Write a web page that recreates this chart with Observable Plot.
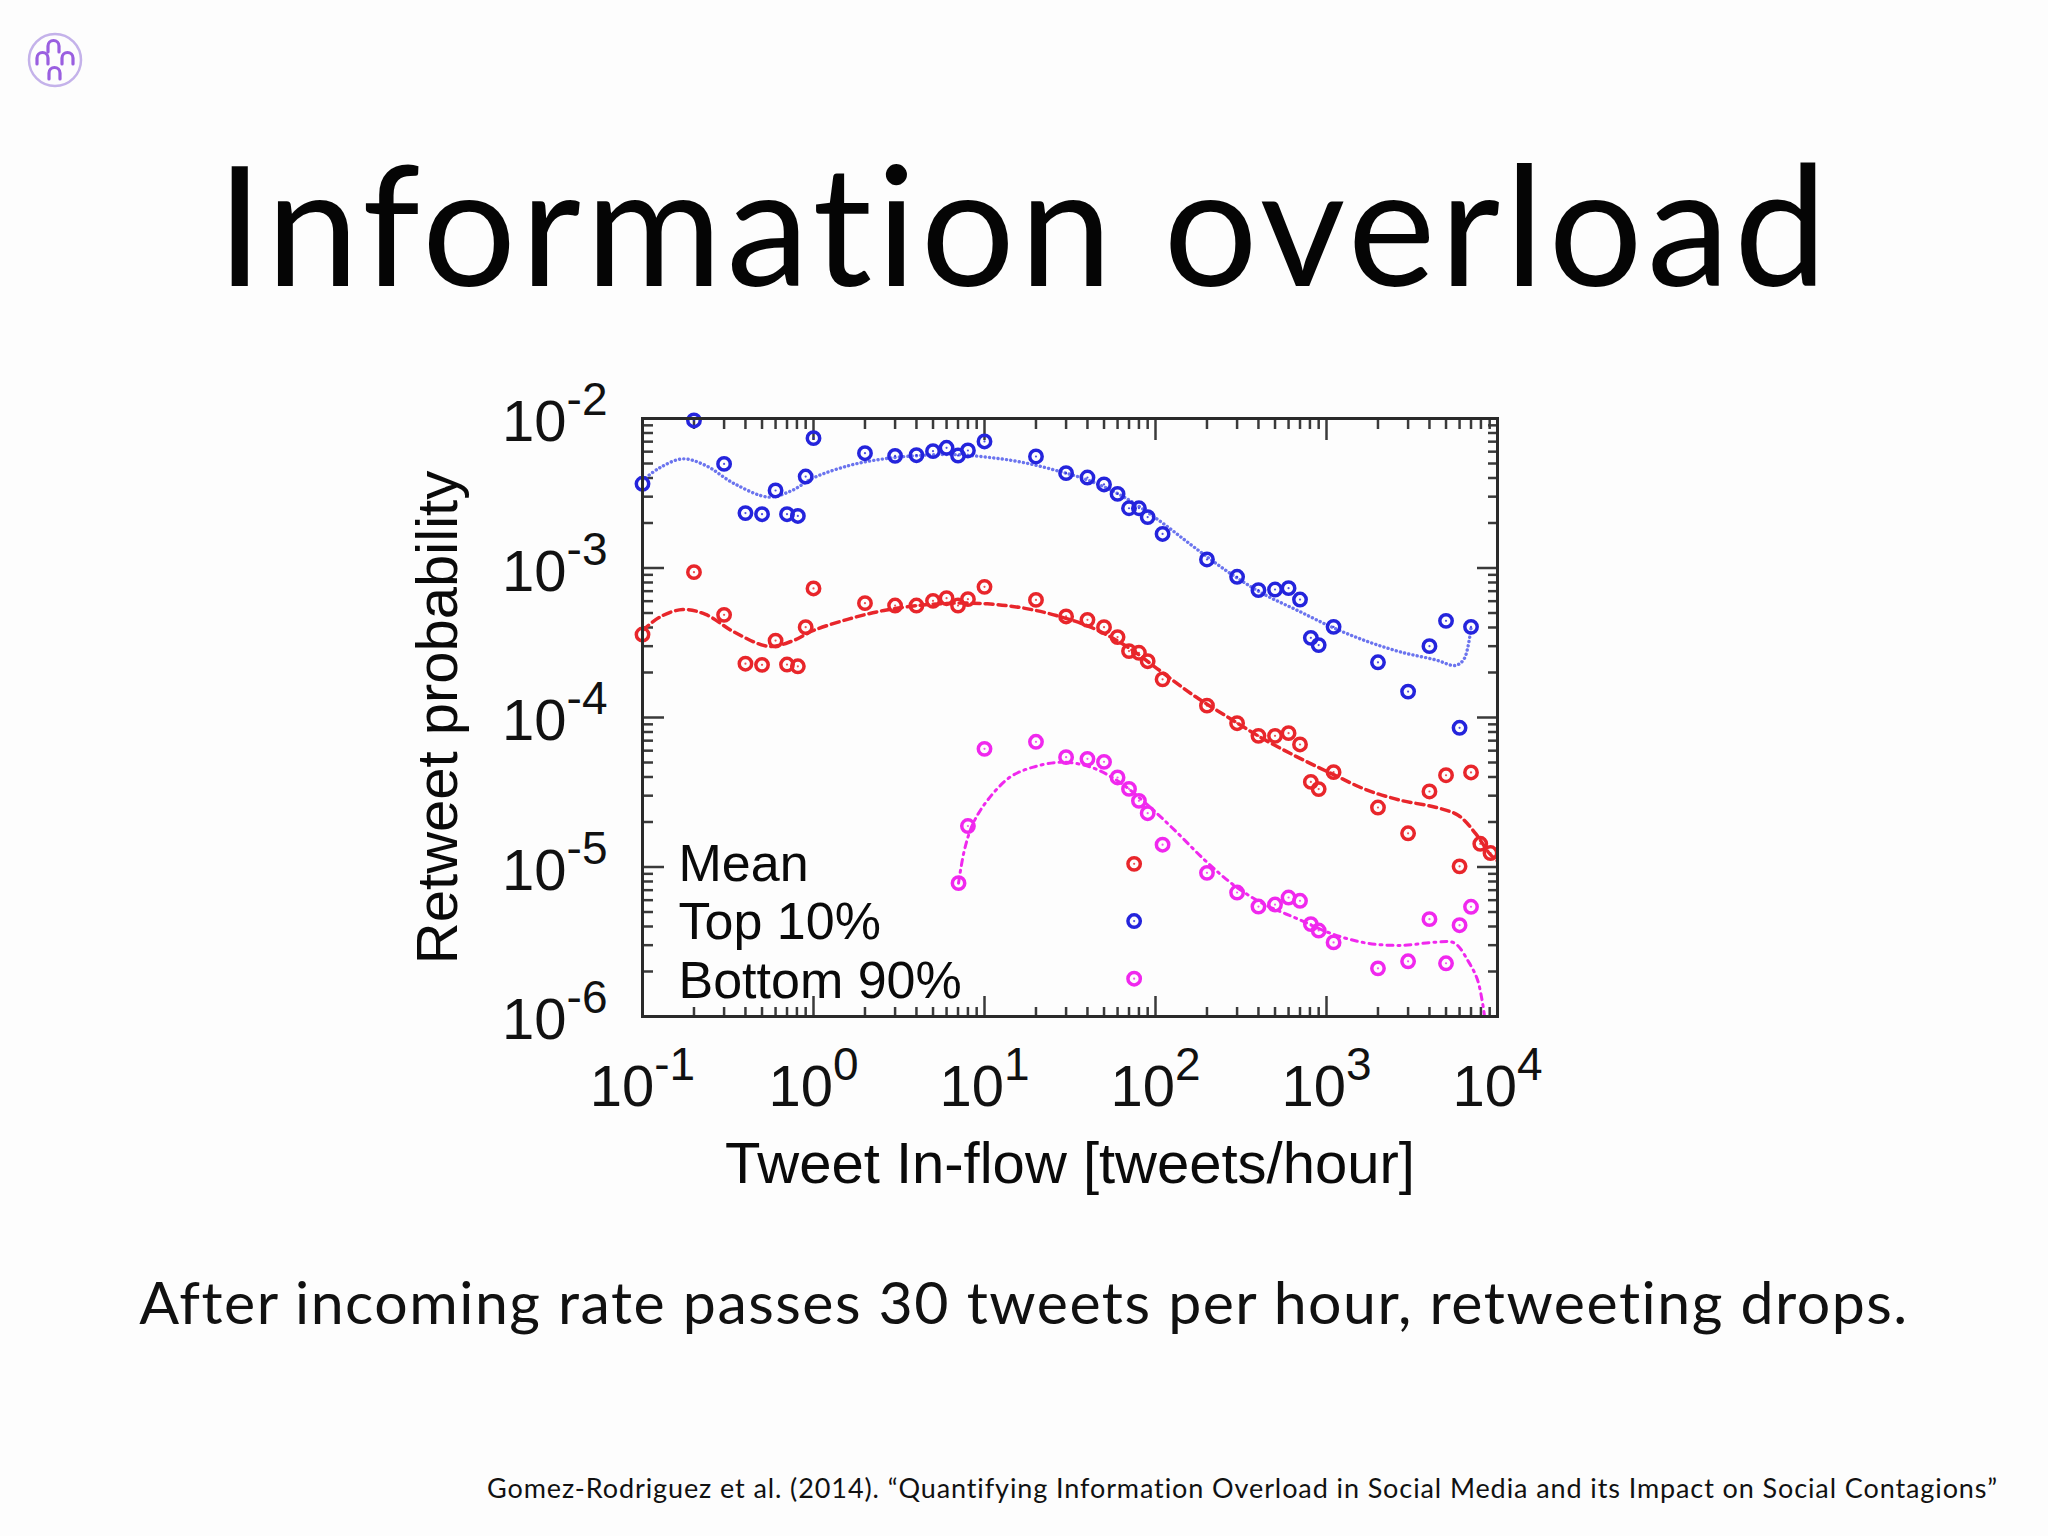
<!DOCTYPE html>
<html>
<head>
<meta charset="utf-8">
<script src="https://cdn.jsdelivr.net/npm/d3@7"></script>
<script src="https://cdn.jsdelivr.net/npm/@observablehq/plot@0.6"></script>
<style>
  html, body { margin: 0; padding: 0; background: #fdfdfd; }
  #page { position: relative; width: 2048px; height: 1536px; overflow: hidden; background: #fdfdfd; }
  .slide { font-family: Lato, "Open Sans", sans-serif; font-variant-ligatures: none; font-feature-settings: "liga" 0, "clig" 0; }
  #title { position: absolute; left: 0; width: 2048px; top: 139px; text-align: center;
           font-size: 166px; letter-spacing: 4.5px; line-height: 1; color: #050505; }
  #subtitle { position: absolute; left: 0; width: 2048px; top: 1272px; text-align: center;
           font-size: 59px; letter-spacing: 1.5px; line-height: 1; color: #111; }
  #citation { position: absolute; right: 50px; top: 1474px; text-align: right;
           font-size: 27px; letter-spacing: 0.9px; line-height: 1; color: #111; }
  #chart { position: absolute; left: 300px; top: 370px; }
  #logo { position: absolute; left: 0; top: 0; }
</style>
</head>
<body>
<div id="page">
  <svg id="logo" width="120" height="120" viewBox="0 0 120 120">
    <circle cx="55" cy="60" r="26" fill="none" stroke="#c4b2ea" stroke-width="2.5"/>
    <g fill="none" stroke="#9a5fe0" stroke-width="3.2" stroke-linecap="round">
      <path d="M48,52 L48,46 A5.5,5.5 0 0 1 59,46 L59,52"/>
      <path d="M37,64 L37,58 A5.5,5.5 0 0 1 48,58 L48,64"/>
      <path d="M62,64 L62,58 A5.5,5.5 0 0 1 73,58 L73,64"/>
      <path d="M49,79 L49,73 A5.5,5.5 0 0 1 60,73 L60,79"/>
    </g>
  </svg>
  <div id="title" class="slide"></div>
  <div id="chart"></div>
  <div id="subtitle" class="slide"></div>
  <div id="citation" class="slide"></div>
</div>
<script>
// ---------- texts ----------
const titleText = "Information overload";
const subtitleText = "After incoming rate passes 30 tweets per hour, retweeting drops.";
const citationText = "Gomez-Rodriguez et al. (2014). \u201cQuantifying Information Overload in Social Media and its Impact on Social Contagions\u201d";
const xLabel = "Tweet In-flow [tweets/hour]";
const yLabel = "Retweet probability";
const legendLabels = ["Mean", "Top 10%", "Bottom 90%"];

// ---------- ticks ----------
const xTickValues = [0.1, 1, 10, 100, 1000, 10000];
const yTickValues = [1e-6, 1e-5, 1e-4, 1e-3, 1e-2];
const minorMultipliers = [2, 3, 4, 5, 6, 7, 8, 9];

// ---------- series names / colours ----------
const seriesNames = ["Mean", "Top 10%", "Bottom 90%"];
const seriesColors = ["#e8262b", "#2424dc", "#f028ee"];
const fitColors = ["#e8262b", "#6b74ee", "#f028ee"];

// ---------- observed points ----------
const top10X = [0.1, 0.2, 0.3, 0.4, 0.5, 0.6, 0.7, 0.81, 0.9, 1, 2, 3, 4, 5, 6, 7, 8, 10, 20, 30, 40, 50, 60, 70, 75, 80, 90, 110, 200, 300, 400, 500, 600, 700, 810, 900, 1100, 2000, 3000, 4000, 5000, 6000, 7000];
const top10Y = [3.66e-3, 9.7e-3, 4.97e-3, 2.33e-3, 2.29e-3, 3.30e-3, 2.29e-3, 2.23e-3, 4.09e-3, 7.39e-3, 5.86e-3, 5.62e-3, 5.68e-3, 6.05e-3, 6.37e-3, 5.65e-3, 6.11e-3, 7.02e-3, 5.57e-3, 4.31e-3, 4.03e-3, 3.62e-3, 3.13e-3, 2.51e-3, 4.35e-6, 2.51e-3, 2.19e-3, 1.69e-3, 1.14e-3, 8.73e-4, 7.11e-4, 7.18e-4, 7.33e-4, 6.15e-4, 3.41e-4, 3.05e-4, 4.04e-4, 2.34e-4, 1.49e-4, 3.0e-4, 4.43e-4, 8.53e-5, 4.04e-4];

const meanX = [0.1, 0.2, 0.3, 0.4, 0.5, 0.6, 0.7, 0.81, 0.9, 1, 2, 3, 4, 5, 6, 7, 8, 10, 20, 30, 40, 50, 60, 70, 75, 80, 90, 110, 200, 300, 400, 500, 600, 700, 810, 900, 1100, 2000, 3000, 4000, 5000, 6000, 7000, 7930, 9100];
const meanY = [3.59e-4, 9.38e-4, 4.86e-4, 2.29e-4, 2.25e-4, 3.27e-4, 2.26e-4, 2.2e-4, 4.02e-4, 7.3e-4, 5.82e-4, 5.61e-4, 5.61e-4, 6.03e-4, 6.28e-4, 5.61e-4, 6.19e-4, 7.48e-4, 6.12e-4, 4.74e-4, 4.5e-4, 4.02e-4, 3.45e-4, 2.78e-4, 1.05e-5, 2.71e-4, 2.38e-4, 1.8e-4, 1.2e-4, 9.16e-5, 7.54e-5, 7.54e-5, 7.86e-5, 6.6e-5, 3.71e-5, 3.32e-5, 4.31e-5, 2.5e-5, 1.68e-5, 3.2e-5, 4.11e-5, 1.01e-5, 4.29e-5, 1.43e-5, 1.24e-5];

const bottom90X = [7.05, 8, 10, 20, 30, 40, 50, 60, 70, 75, 80, 90, 110, 200, 300, 400, 500, 600, 700, 810, 900, 1100, 2000, 3000, 4000, 5000, 6000, 7000];
const bottom90Y = [7.8e-6, 1.88e-5, 6.17e-5, 6.88e-5, 5.43e-5, 5.29e-5, 5.05e-5, 3.97e-5, 3.33e-5, 1.79e-6, 2.77e-5, 2.29e-5, 1.41e-5, 9.14e-6, 6.75e-6, 5.44e-6, 5.61e-6, 6.25e-6, 5.94e-6, 4.15e-6, 3.76e-6, 3.13e-6, 2.1e-6, 2.34e-6, 4.48e-6, 2.27e-6, 4.08e-6, 5.42e-6];

// ---------- fitted curves ----------
const top10FitX = [0.1, 0.126, 0.172, 0.234, 0.345, 0.548, 0.748, 1.0, 1.62, 2.58, 4.1, 6.53, 10.4, 16.5, 26.3, 41.8, 66.5, 106, 168, 267, 426, 677, 1077, 1714, 2724, 4335, 5686, 6383, 7000];
const top10FitY = [3.85e-3, 4.68e-3, 5.37e-3, 4.85e-3, 3.66e-3, 2.98e-3, 3.30e-3, 4.01e-3, 4.85e-3, 5.37e-3, 5.65e-3, 5.74e-3, 5.51e-3, 5.1e-3, 4.49e-3, 3.81e-3, 2.95e-3, 2.06e-3, 1.38e-3, 9.38e-4, 6.72e-4, 5.2e-4, 4.02e-4, 3.24e-4, 2.74e-4, 2.43e-4, 2.23e-4, 2.47e-4, 3.98e-4];

const meanFitX = [0.1, 0.126, 0.172, 0.234, 0.345, 0.548, 0.748, 1.0, 1.62, 2.58, 4.1, 6.53, 10.4, 16.5, 26.3, 41.8, 66.5, 106, 168, 267, 426, 677, 1077, 1714, 2724, 4335, 5912, 7452, 9040, 10000];
const meanFitY = [3.82e-4, 4.69e-4, 5.28e-4, 4.89e-4, 3.72e-4, 2.99e-4, 3.24e-4, 3.82e-4, 4.57e-4, 5.2e-4, 5.61e-4, 5.82e-4, 5.76e-4, 5.42e-4, 4.81e-4, 4.02e-4, 3.03e-4, 2.06e-4, 1.4e-4, 1.0e-4, 7.2e-5, 5.43e-5, 4.2e-5, 3.28e-5, 2.79e-5, 2.51e-5, 2.21e-5, 1.67e-5, 1.22e-5, 1.1e-5];

const bottom90FitX = [7.05, 7.62, 8.55, 10.4, 14.1, 19.3, 28.4, 41.8, 61.5, 90.6, 133, 196, 289, 426, 677, 1077, 1714, 2724, 4335, 5600, 6790, 7600, 8130, 8400];
const bottom90FitY = [7.8e-6, 1.29e-5, 1.94e-5, 2.79e-5, 3.99e-5, 4.66e-5, 5.02e-5, 4.66e-5, 3.7e-5, 2.58e-5, 1.71e-5, 1.1e-5, 7.52e-6, 5.68e-6, 4.5e-6, 3.57e-6, 3.1e-6, 2.99e-6, 3.14e-6, 3.1e-6, 2.31e-6, 1.79e-6, 1.28e-6, 1.0e-6];

// ---------- build tables ----------
const rows = (xs, ys, s) => xs.map((x, i) => ({x, y: ys[i], series: s}));
const pointRows = [
  ...rows(meanX, meanY, "Mean"),
  ...rows(top10X, top10Y, "Top 10%"),
  ...rows(bottom90X, bottom90Y, "Bottom 90%")
];
const meanFit = rows(meanFitX, meanFitY, "Mean");
const top10Fit = rows(top10FitX, top10FitY, "Top 10%");
const bottom90Fit = rows(bottom90FitX, bottom90FitY, "Bottom 90%");

const xMinor = xTickValues.slice(0, -1).flatMap(d => minorMultipliers.map(k => k * d));
const yMinor = yTickValues.slice(0, -1).flatMap(d => minorMultipliers.map(k => k * d));
const expFormat = d => "10^" + Math.round(Math.log10(d));

const tickStroke = "#3a3a3a";
const font = "'Liberation Sans', Arial, Helvetica, sans-serif";

const chart = Plot.plot({
  width: 1300,
  height: 850,
  marginLeft: 342,
  marginRight: 103,
  marginTop: 48,
  marginBottom: 204,
  style: {fontFamily: font, background: "transparent", color: "#111", overflow: "visible"},
  x: {type: "log", domain: [0.1, 1e4]},
  y: {type: "log", domain: [1e-6, 1e-2]},
  color: {domain: seriesNames, range: seriesColors},
  marks: [
    // inward ticks on all four sides
    Plot.axisX(xMinor, {anchor: "bottom", tickSize: -9, fill: "none", stroke: tickStroke, strokeWidth: 2.5, label: null}),
    Plot.axisX(xTickValues, {anchor: "bottom", tickSize: -20, fill: "none", stroke: tickStroke, strokeWidth: 2.5, label: null}),
    Plot.axisX(xMinor, {anchor: "top", tickSize: -10, fill: "none", stroke: tickStroke, strokeWidth: 2.5, label: null}),
    Plot.axisX(xTickValues, {anchor: "top", tickSize: -21, fill: "none", stroke: tickStroke, strokeWidth: 2.5, label: null}),
    Plot.axisY(yMinor, {anchor: "left", tickSize: -11, fill: "none", stroke: tickStroke, strokeWidth: 2.5, label: null}),
    Plot.axisY(yTickValues, {anchor: "left", tickSize: -22, fill: "none", stroke: tickStroke, strokeWidth: 2.5, label: null}),
    Plot.axisY(yMinor, {anchor: "right", tickSize: -10, fill: "none", stroke: tickStroke, strokeWidth: 2.5, label: null}),
    Plot.axisY(yTickValues, {anchor: "right", tickSize: -21, fill: "none", stroke: tickStroke, strokeWidth: 2.5, label: null}),
    // tick labels
    Plot.axisX(xTickValues, {anchor: "bottom", tickSize: 0, tickPadding: 48, fontSize: 58, tickFormat: expFormat, label: null, fill: "#111"}),
    Plot.axisY(yTickValues, {anchor: "left", tickSize: 0, tickPadding: 35, fontSize: 58, dy: 4, tickFormat: expFormat, label: null, fill: "#111"}),
    // fitted curves
    Plot.line(top10Fit, {x: "x", y: "y", stroke: fitColors[1], strokeWidth: 3.4, strokeLinecap: "round", strokeDasharray: "0.1,4.2", curve: "catmull-rom", clip: true}),
    Plot.line(meanFit, {x: "x", y: "y", stroke: fitColors[0], strokeWidth: 3.5, strokeDasharray: "8,5", curve: "catmull-rom", clip: true}),
    Plot.line(bottom90Fit, {x: "x", y: "y", stroke: fitColors[2], strokeWidth: 3, strokeDasharray: "6,5,2,5", curve: "catmull-rom", clip: true}),
    // points: open circles with a tiny centre dot
    Plot.dot(pointRows, {x: "x", y: "y", stroke: "series", fill: "none", r: 6.2, strokeWidth: 3.5}),
    Plot.dot(pointRows, {x: "x", y: "y", fill: "series", r: 1.1, fillOpacity: 0.8}),
    // frame
    Plot.frame({stroke: "#2a2a2a", strokeWidth: 3}),
    // legend text
    Plot.text([legendLabels.join("\n")], {text: d => d, frameAnchor: "bottom-left", textAnchor: "start", lineAnchor: "bottom", lineHeight: 1.12, fontSize: 52, dx: 36, dy: -19, fill: "#0a0a0a"}),
    // axis titles
    Plot.text([xLabel], {text: d => d, frameAnchor: "bottom", textAnchor: "middle", lineAnchor: "middle", dy: 148, fontSize: 58, fill: "#0a0a0a"}),
    Plot.text([yLabel], {text: d => d, frameAnchor: "left", textAnchor: "middle", lineAnchor: "middle", rotate: -90, dx: -204, fontSize: 58, fill: "#0a0a0a"})
  ]
});

// superscript exponents in tick labels
const NS = "http://www.w3.org/2000/svg";
chart.querySelectorAll("text").forEach(t => {
  if (t.childElementCount === 0 && t.textContent.includes("^")) {
    const [base, exp] = t.textContent.split("^");
    t.textContent = "";
    const a = document.createElementNS(NS, "tspan");
    a.textContent = base;
    const b = document.createElementNS(NS, "tspan");
    b.setAttribute("font-size", "46px");
    b.setAttribute("dy", "-26");
    b.textContent = exp;
    t.appendChild(a);
    t.appendChild(b);
  }
});

document.getElementById("chart").appendChild(chart);
document.getElementById("title").textContent = titleText;
document.getElementById("subtitle").textContent = subtitleText;
document.getElementById("citation").textContent = citationText;
</script>
</body>
</html>
